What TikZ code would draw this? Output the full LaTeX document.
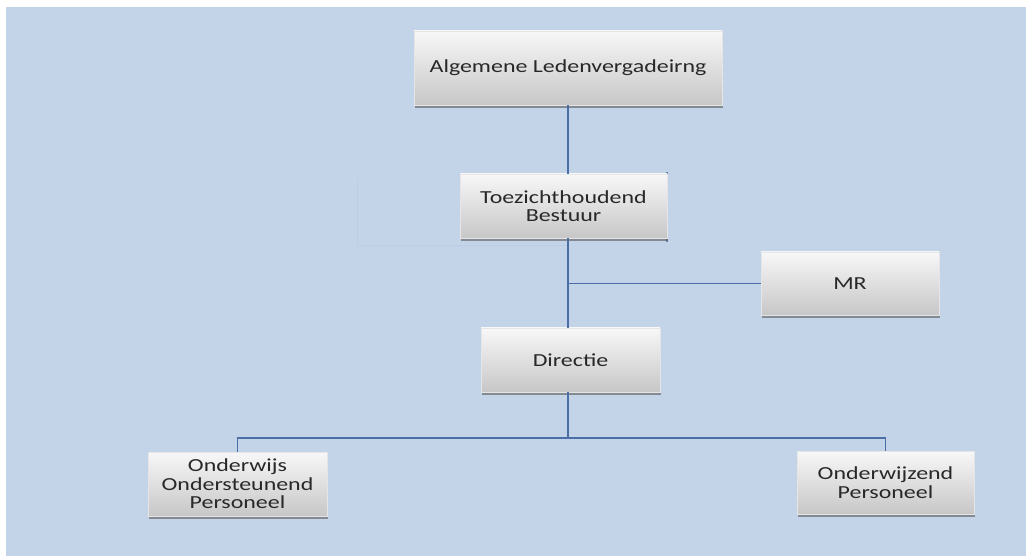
\documentclass[tikz,border=0pt]{standalone}
\usepackage{fontspec}
\setmainfont[FakeStretch=1.3]{Carlito}
\usetikzlibrary{shadows,calc}
\definecolor{bgblue}{RGB}{196,212,232}
\definecolor{linkblue}{RGB}{74,110,165}
\definecolor{txt}{RGB}{40,40,40}
\definecolor{ghost}{RGB}{189,206,228}
\begin{document}
\begin{tikzpicture}[x=0.75pt,y=-0.75pt,
  box/.style={rectangle, inner sep=0pt, align=center, text=txt,
    font=\fontsize{13.8pt}{13.9pt}\selectfont,
    top color=white!97!black, bottom color=black!22, draw=black!10, line width=0.3pt,
    drop shadow={shadow xshift=0.6pt, shadow yshift=-2pt, fill=black!65, opacity=0.6}},
  link/.style={draw=linkblue, line width=1.4pt}]
\useasboundingbox (0,0) rectangle (1026,556);
\fill[white] (0,0) rectangle (1026,556);
\fill[bgblue] (6,7) rectangle (1026,556);
% faint ghost outline
\draw[ghost, line width=0.5pt] (357,180) -- (357,245) -- (568,245);
\draw[linkblue!80!bgblue, line width=0.8pt] (667,172) -- (667,242);
\node[box, minimum width=308*0.75pt, minimum height=74*0.75pt] (alg) at (568,68) {Algemene Ledenvergadeirng};
\node[box, minimum width=207*0.75pt, minimum height=64*0.75pt] (toez) at (563.5,206) {Toezichthoudend\\Bestuur};
\node[box, minimum width=178*0.75pt, minimum height=63*0.75pt] (mr) at (850,283.5) {MR};
\node[box, minimum width=179*0.75pt, minimum height=64*0.75pt] (dir) at (570.5,360) {Directie};
\node[box, minimum width=179*0.75pt, minimum height=64*0.75pt] (oop) at (237.5,484) {Onderwijs\\Ondersteunend\\Personeel};
\node[box, minimum width=177*0.75pt, minimum height=63*0.75pt] (op) at (885.5,482.5) {Onderwijzend\\Personeel};
\coordinate (j) at (568,438);
\path[link] (alg.south) -- (alg.south |- toez.north);
\path[link] (alg.south |- toez.south) -- (alg.south |- dir.north);
\path[link] (mr.west) -- (mr.west -| alg.south);
\path[link] (alg.south |- dir.south) -- (j);
\path[link] (oop.north) |- (j) -| (op.north);
\end{tikzpicture}
\end{document}
